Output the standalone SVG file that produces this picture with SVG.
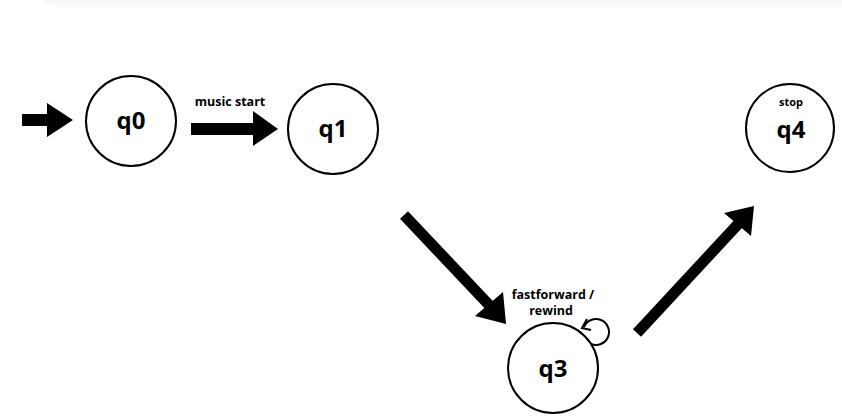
<svg xmlns="http://www.w3.org/2000/svg" width="842" height="417" viewBox="0 0 842 417">
<defs>
<linearGradient id="shadow" x1="0" y1="0" x2="0" y2="1">
<stop offset="0" stop-color="#f6f6f6"/>
<stop offset="1" stop-color="#ffffff"/>
</linearGradient>
</defs>
<style>
.node{fill:#fff;stroke:#000;stroke-width:2}
.ql{font-family:"Open Sans","Liberation Sans",sans-serif;font-weight:700;font-size:24px;text-anchor:middle;fill:#000}
.lbl{font-family:"Open Sans","Liberation Sans",sans-serif;font-weight:700;font-size:12.5px;text-anchor:middle;fill:#000}
.shaft{stroke:#000;stroke-width:11;fill:none}
.head{fill:#000}
</style>
<rect x="0" y="0" width="842" height="417" fill="#fff"/>
<path d="M40,0 H842 V10 H80 Q50,8 40,0 Z" fill="url(#shadow)"/>
<g id="connectors">
<rect x="22" y="114" width="26" height="12" fill="#000"/>
<polygon class="head" points="47,103 73,120 47,137"/>
<rect x="191" y="123" width="63" height="12" fill="#000"/>
<polygon class="head" points="253,111 278,129 253,146"/>
<text class="lbl" x="230" y="106">music start</text>
<line class="shaft" x1="404" y1="215" x2="490" y2="306"/>
<polygon class="head" points="475,316 503,292 506,324"/>
<line class="shaft" x1="637" y1="333" x2="740" y2="222"/>
<polygon class="head" points="724,213 754,206 751,236"/>
<path d="M591,344 A13,13 0 1 0 584,327" fill="none" stroke="#000" stroke-width="2"/>
<polyline points="587,319 582,328 591,330" fill="none" stroke="#000" stroke-width="2"/>
<text class="lbl" x="553" y="299">fastforward /</text>
<text class="lbl" x="551" y="315">rewind</text>
</g>
<g id="q0">
<circle class="node" cx="131" cy="121" r="45"/>
<text class="ql" x="131" y="129">q0</text>
</g>
<g id="q1">
<circle class="node" cx="333" cy="129" r="45"/>
<text class="ql" x="333" y="137">q1</text>
</g>
<g id="q3">
<circle class="node" cx="553" cy="368" r="45"/>
<text class="ql" x="553" y="377">q3</text>
</g>
<g id="q4">
<circle class="node" cx="790" cy="128" r="44"/>
<text class="lbl" x="791" y="106" style="font-size:11px">stop</text>
<text class="ql" x="791" y="138">q4</text>
</g>
</svg>
